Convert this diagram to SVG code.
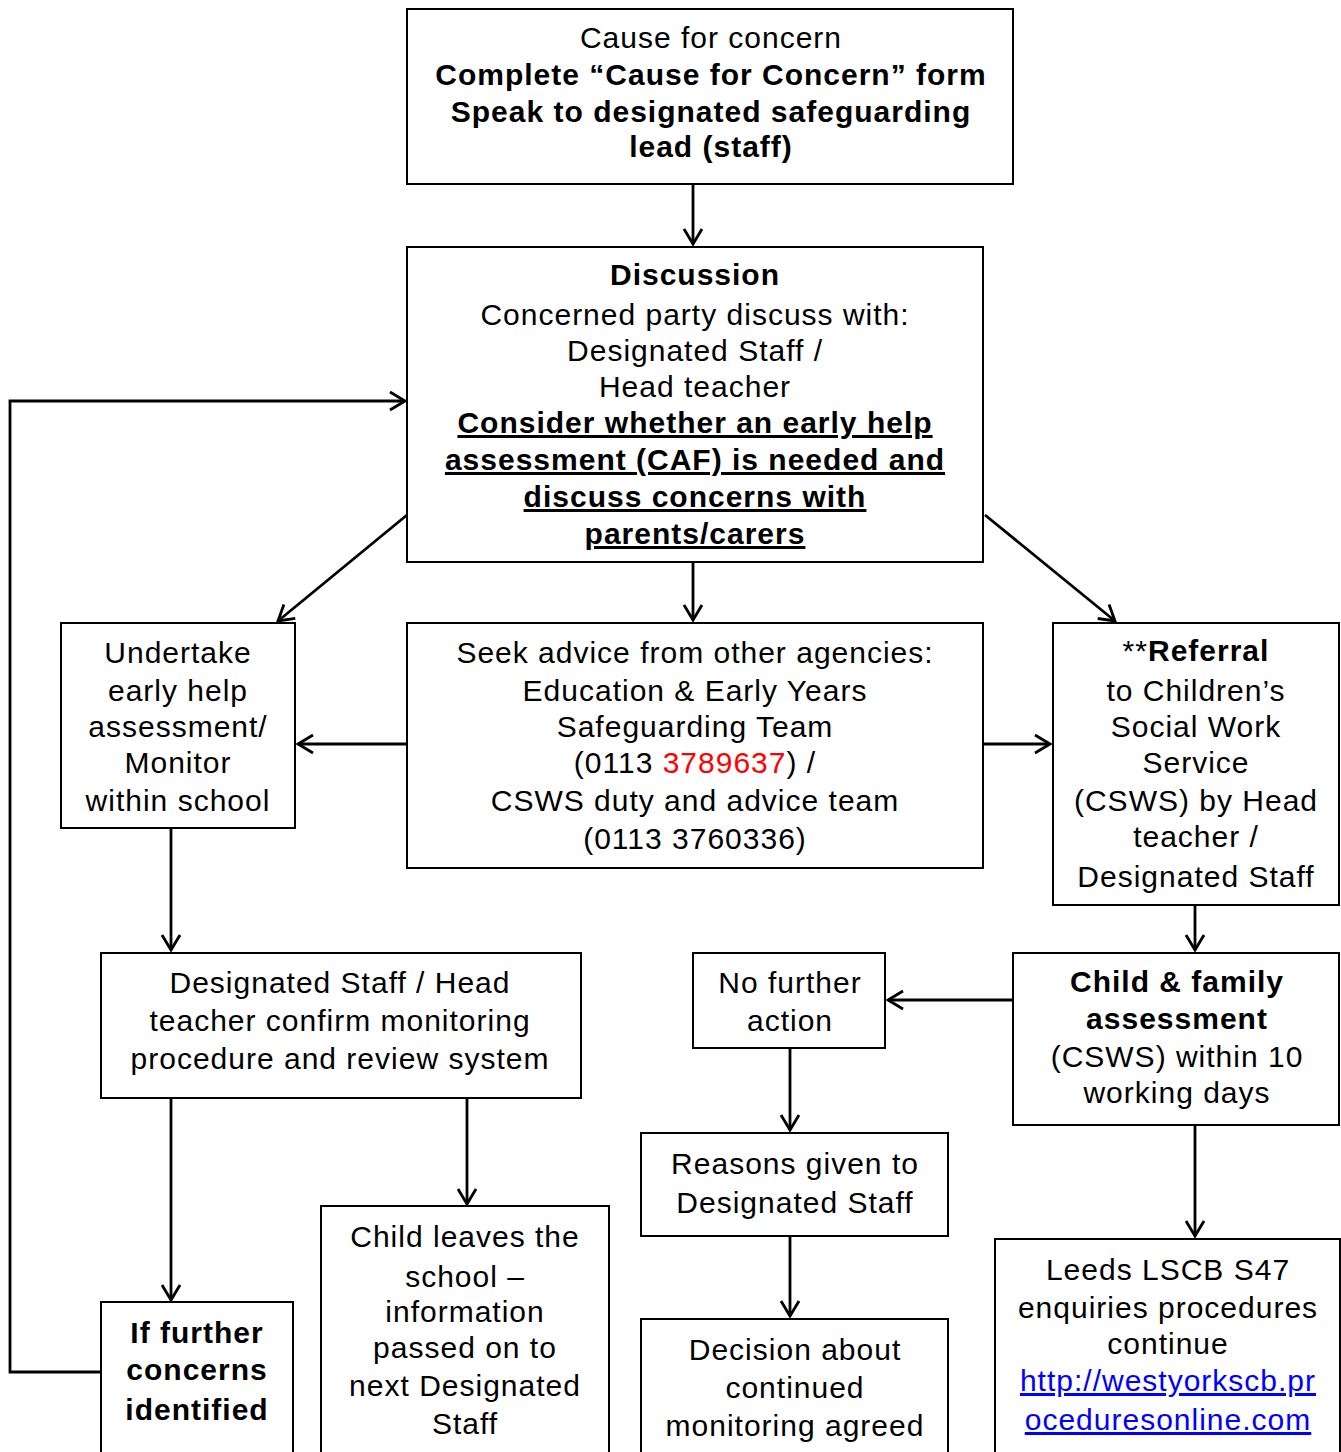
<svg xmlns="http://www.w3.org/2000/svg" width="1341" height="1452" viewBox="0 0 1341 1452">
<style>
.box{fill:#fff;stroke:#000;stroke-width:2}
.t{font-family:"Liberation Sans",Arial,sans-serif;font-size:30px;letter-spacing:1px;fill:#000;text-anchor:middle}
.b{font-weight:bold}
.u{text-decoration:underline}
.red{fill:#ff0000}
.link{fill:#0000ff;text-decoration:underline}
.c{fill:none;stroke:#000;stroke-width:2.8}
</style>
<defs>
<marker id="ah" viewBox="0 0 20 22" refX="17" refY="11" markerWidth="20" markerHeight="22" markerUnits="userSpaceOnUse" orient="auto">
<path d="M2,2 L17,11 L2,20" fill="none" stroke="#000" stroke-width="2.8"/>
</marker>
</defs>
<rect width="1341" height="1452" fill="#fff"/>
<g id="connectors">
<line class="c" x1="693" y1="185" x2="693" y2="244" marker-end="url(#ah)"/>
<polyline class="c" points="101,1372 10,1372 10,401 405,401" marker-end="url(#ah)"/>
<line class="c" x1="407" y1="515" x2="278" y2="621" marker-end="url(#ah)"/>
<line class="c" x1="985" y1="515" x2="1115" y2="621" marker-end="url(#ah)"/>
<line class="c" x1="693" y1="563" x2="693" y2="620" marker-end="url(#ah)"/>
<line class="c" x1="407" y1="744" x2="298" y2="744" marker-end="url(#ah)"/>
<line class="c" x1="983" y1="744" x2="1050" y2="744" marker-end="url(#ah)"/>
<line class="c" x1="1195" y1="905" x2="1195" y2="950" marker-end="url(#ah)"/>
<line class="c" x1="1013" y1="1000" x2="888" y2="1000" marker-end="url(#ah)"/>
<line class="c" x1="790" y1="1048" x2="790" y2="1130" marker-end="url(#ah)"/>
<line class="c" x1="790" y1="1236" x2="790" y2="1316" marker-end="url(#ah)"/>
<line class="c" x1="1195" y1="1125" x2="1195" y2="1236" marker-end="url(#ah)"/>
<line class="c" x1="171" y1="828" x2="171" y2="950" marker-end="url(#ah)"/>
<line class="c" x1="171" y1="1098" x2="171" y2="1300" marker-end="url(#ah)"/>
<line class="c" x1="467" y1="1098" x2="467" y2="1204" marker-end="url(#ah)"/>
</g>
<g id="cause">
<rect class="box" x="407" y="9" width="606" height="175"/>
<text class="t" x="711" y="48">Cause for concern</text>
<text class="t b" x="711" y="85">Complete “Cause for Concern” form</text>
<text class="t b" x="711" y="122">Speak to designated safeguarding</text>
<text class="t b" x="711" y="157">lead (staff)</text>
</g>
<g id="discussion">
<rect class="box" x="407" y="247" width="576" height="315"/>
<text class="t b" x="695" y="285">Discussion</text>
<text class="t" x="695" y="325">Concerned party discuss with:</text>
<text class="t" x="695" y="361">Designated Staff /</text>
<text class="t" x="695" y="397">Head teacher</text>
<text class="t b u" x="695" y="433">Consider whether an early help</text>
<text class="t b u" x="695" y="470">assessment (CAF) is needed and</text>
<text class="t b u" x="695" y="507">discuss concerns with</text>
<text class="t b u" x="695" y="544">parents/carers</text>
</g>
<g id="undertake">
<rect class="box" x="61" y="623" width="234" height="205"/>
<text class="t" x="178" y="663">Undertake</text>
<text class="t" x="178" y="701">early help</text>
<text class="t" x="178" y="737">assessment/</text>
<text class="t" x="178" y="773">Monitor</text>
<text class="t" x="178" y="811">within school</text>
</g>
<g id="seek">
<rect class="box" x="407" y="623" width="576" height="245"/>
<text class="t" x="695" y="663">Seek advice from other agencies:</text>
<text class="t" x="695" y="701">Education &amp; Early Years</text>
<text class="t" x="695" y="737">Safeguarding Team</text>
<text class="t" x="695" y="773">(0113 <tspan class="red">3789637</tspan>) /</text>
<text class="t" x="695" y="811">CSWS duty and advice team</text>
<text class="t" x="695" y="849">(0113 3760336)</text>
</g>
<g id="referral">
<rect class="box" x="1053" y="623" width="286" height="282"/>
<text class="t" x="1196" y="661">**<tspan class="b">Referral</tspan></text>
<text class="t" x="1196" y="701">to Children’s</text>
<text class="t" x="1196" y="737">Social Work</text>
<text class="t" x="1196" y="773">Service</text>
<text class="t" x="1196" y="811">(CSWS) by Head</text>
<text class="t" x="1196" y="847">teacher /</text>
<text class="t" x="1196" y="887">Designated Staff</text>
</g>
<g id="childfamily">
<rect class="box" x="1013" y="953" width="326" height="172"/>
<text class="t b" x="1177" y="992">Child &amp; family</text>
<text class="t b" x="1177" y="1029">assessment</text>
<text class="t" x="1177" y="1067">(CSWS) within 10</text>
<text class="t" x="1177" y="1103">working days</text>
</g>
<g id="nofurther">
<rect class="box" x="693" y="953" width="192" height="95"/>
<text class="t" x="790" y="993">No further</text>
<text class="t" x="790" y="1031">action</text>
</g>
<g id="reasons">
<rect class="box" x="641" y="1133" width="307" height="103"/>
<text class="t" x="795" y="1174">Reasons given to</text>
<text class="t" x="795" y="1213">Designated Staff</text>
</g>
<g id="decision">
<rect class="box" x="641" y="1319" width="307" height="150"/>
<text class="t" x="795" y="1360">Decision about</text>
<text class="t" x="795" y="1398">continued</text>
<text class="t" x="795" y="1436">monitoring agreed</text>
</g>
<g id="leeds">
<rect class="box" x="995" y="1239" width="345" height="230"/>
<text class="t" x="1168" y="1280">Leeds LSCB S47</text>
<text class="t" x="1168" y="1318">enquiries procedures</text>
<text class="t" x="1168" y="1354">continue</text>
<text class="t link" x="1168" y="1391">http://westyorkscb.pr</text>
<text class="t link" x="1168" y="1430">oceduresonline.com</text>
</g>
<g id="confirm">
<rect class="box" x="101" y="953" width="480" height="145"/>
<text class="t" x="340" y="993">Designated Staff / Head</text>
<text class="t" x="340" y="1031">teacher confirm monitoring</text>
<text class="t" x="340" y="1069">procedure and review system</text>
</g>
<g id="further">
<rect class="box" x="101" y="1302" width="192" height="167"/>
<text class="t b" x="197" y="1343">If further</text>
<text class="t b" x="197" y="1380">concerns</text>
<text class="t b" x="197" y="1420">identified</text>
</g>
<g id="leaves">
<rect class="box" x="321" y="1206" width="288" height="263"/>
<text class="t" x="465" y="1247">Child leaves the</text>
<text class="t" x="465" y="1287">school –</text>
<text class="t" x="465" y="1322">information</text>
<text class="t" x="465" y="1358">passed on to</text>
<text class="t" x="465" y="1396">next Designated</text>
<text class="t" x="465" y="1434">Staff</text>
</g>
</svg>
